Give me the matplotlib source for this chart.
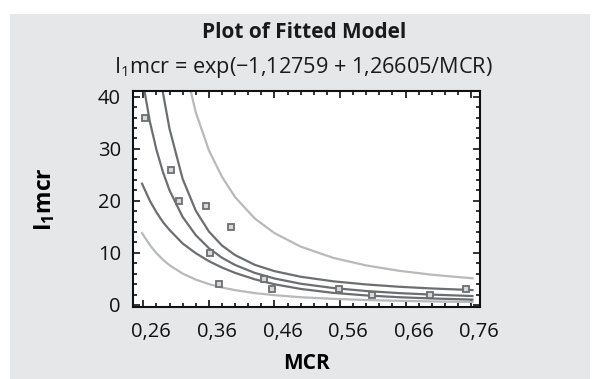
import matplotlib
matplotlib.use("Agg")
import matplotlib.pyplot as plt
from matplotlib.patches import Rectangle
from matplotlib.transforms import ScaledTranslation
from matplotlib.ticker import MultipleLocator

plt.rcParams['font.family'] = ['Open Sans', 'DejaVu Sans']
plt.rcParams['mathtext.fontset'] = 'custom'
plt.rcParams['mathtext.rm'] = 'Open Sans'
plt.rcParams['mathtext.bf'] = 'Open Sans:bold'

# observed points
mcr = [0.263, 0.302, 0.314, 0.356, 0.361, 0.376, 0.393, 0.444, 0.456, 0.558, 0.609, 0.697, 0.752]
i1mcr = [36, 26, 20, 19, 10, 4, 15, 5, 3, 3, 2, 2, 3]

# curves (fit, confidence limits, prediction limits)
grid = [0.258, 0.27, 0.28, 0.29, 0.30, 0.32, 0.34, 0.36, 0.38, 0.40,
        0.43, 0.46, 0.50, 0.55, 0.60, 0.65, 0.70, 0.762]
fit = [43.8, 35.2, 29.8, 25.5, 22.0, 16.9, 13.4, 10.9, 9.06, 7.67,
       6.15, 5.08, 4.07, 3.24, 2.67, 2.27, 1.98, 1.71]
conf_hi = [82.2, 61.9, 49.8, 40.7, 33.8, 24.2, 18.1, 14.1, 11.4, 9.57,
           7.70, 6.49, 5.41, 4.53, 3.93, 3.49, 3.16, 2.85]
conf_lo = [23.3, 20.0, 17.8, 15.9, 14.4, 11.8, 9.93, 8.41, 7.18, 6.15,
           4.92, 3.97, 3.07, 2.31, 1.82, 1.48, 1.24, 1.02]
pred_hi = [139, 108, 89.2, 74.8, 63.6, 47.6, 37.0, 29.7, 24.6, 20.7,
           16.6, 13.8, 11.2, 9.03, 7.58, 6.56, 5.80, 5.11]
pred_lo = [13.8, 11.5, 9.94, 8.68, 7.63, 6.02, 4.86, 4.00, 3.34, 2.84,
           2.27, 1.87, 1.48, 1.16, 0.94, 0.79, 0.67, 0.57]

xticks = [0.26, 0.36, 0.46, 0.56, 0.66, 0.76]
xticklabels = ['0,26', '0,36', '0,46', '0,56', '0,66', '0,76']
yticks = [0, 10, 20, 30, 40]

W, H = 595, 379
fig = plt.figure(figsize=(W / 100, H / 100), dpi=100)
fig.patch.set_facecolor('white')
fig.patches.append(Rectangle((10 / W, 0), 580 / W, 365 / H, transform=fig.transFigure,
                             facecolor='#e6e7e8', edgecolor='none', zorder=-10))

ax = fig.add_axes([133.3 / W, 1 - 307 / H, (480 - 133.3) / W, (307 - 91) / H])
ax.set_zorder(5)
ax.set_facecolor('white')

dark = '#6d6e71'
light = '#b8b9bb'
ax.plot(grid, pred_hi, color=light, lw=1.6)
ax.plot(grid, pred_lo, color=light, lw=1.6)
ax.plot(grid, conf_hi, color=dark, lw=1.6)
ax.plot(grid, conf_lo, color=dark, lw=1.6)
ax.plot(grid, fit, color=dark, lw=1.6)
ax.plot(mcr, i1mcr, ls='none', marker='s', ms=4.5, mfc='#d8d8d8', mec=dark, mew=1.3)

ax.set_xlim(0.2447, 0.7735)
ax.set_ylim(-0.4, 41.1)
ax.set_xticks(xticks)
ax.set_xticklabels(xticklabels)
ax.set_yticks(yticks)
ax.xaxis.set_minor_locator(MultipleLocator(0.02))
ax.yaxis.set_minor_locator(MultipleLocator(2))
ax.tick_params(which='both', direction='in', top=True, right=True, width=1.2, colors='#111111')
ax.tick_params(which='major', length=5, labelsize=14.5, pad=9)
ax.tick_params(axis='x', which='major', pad=11)
ax.tick_params(which='minor', length=2.8)
for s in ax.spines.values():
    s.set_linewidth(1.5)
    s.set_color('#111111')

shift = ScaledTranslation(8 / 100, 0, fig.dpi_scale_trans)
for lab in ax.get_xticklabels():
    lab.set_transform(lab.get_transform() + shift)

ax.set_xlabel('MCR', fontsize=15, fontweight='bold', labelpad=8)
ax.set_ylabel(r'$\mathbf{I_1mcr}$', fontsize=16.5, labelpad=29)

fig.text(304 / W, 1 - 33 / H, 'Plot of Fitted Model', ha='center', va='center',
         fontsize=15, fontweight='bold', color='#1a1a1a')
fig.text(303 / W, 1 - 67 / H, r'$\mathrm{I_1}$mcr = exp(−1,12759 + 1,26605/MCR)',
         ha='center', va='center', fontsize=15.6, color='#1a1a1a')

fig.savefig('out.png', dpi=100)
